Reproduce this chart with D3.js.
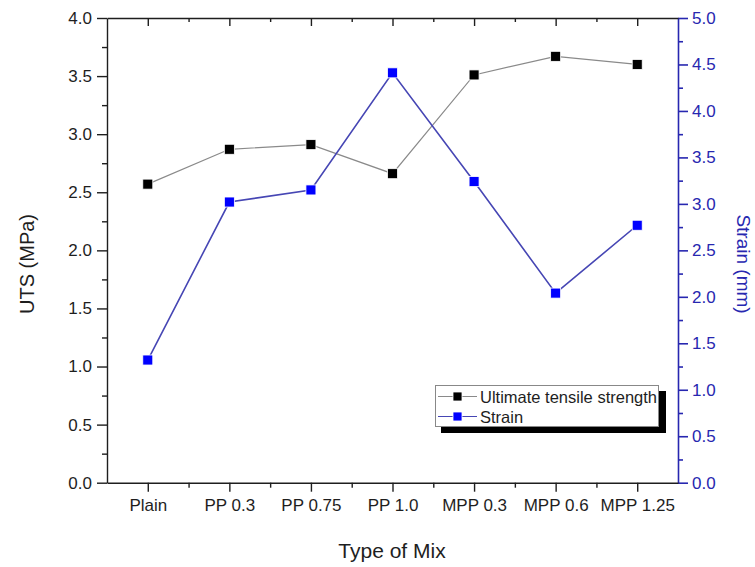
<!DOCTYPE html>
<html><head><meta charset="utf-8">
<script src="https://cdn.jsdelivr.net/npm/d3@7"></script>
<style>body{margin:0;background:#fff}svg{display:block;font-family:"Liberation Sans",Arial,sans-serif}</style>
</head><body><svg id="c" width="755" height="567"></svg>
<script>
const categories = ["Plain","PP 0.3","PP 0.75","PP 1.0","MPP 0.3","MPP 0.6","MPP 1.25"];
const utsValues = [2.57, 2.87, 2.91, 2.66, 3.51, 3.67, 3.60];
const strainValues = [1.32, 3.02, 3.15, 4.41, 3.24, 2.04, 2.77];
const leftTicks = [0,0.5,1.0,1.5,2.0,2.5,3.0,3.5,4.0];
const rightTicks = [0,0.5,1.0,1.5,2.0,2.5,3.0,3.5,4.0,4.5,5.0];
const seriesNames = ["Ultimate tensile strength","Strain"];

const svg = d3.select("#c");
const L = 107, R = 678, T = 18, B = 482.7;
const blueAxis = "#2727b0";
const ink = "#1e1e1e";
const x = d3.scaleLinear().domain([-0.5, categories.length - 0.5]).range([L, R]);
const yL = d3.scaleLinear().domain([0, 4]).range([B, T]);
const yR = d3.scaleLinear().domain([0, 5]).range([B, T]);
const idx = d3.range(categories.length);
const minorX = d3.range(0, categories.length - 1).map(d => d + 0.5);

function style(g, col, w) { g.selectAll("line,path").attr("stroke", col).attr("stroke-width", w); }

// left axis
const gL = svg.append("g").attr("transform", `translate(${L},0)`)
  .call(d3.axisLeft(yL).tickValues(d3.range(0.25, 4, 0.5)).tickSize(5).tickFormat(""));
gL.selectAll(".domain").remove(); style(gL, ink, 1.4);
const gL2 = svg.append("g").attr("transform", `translate(${L},0)`)
  .call(d3.axisLeft(yL).tickValues(leftTicks).tickSize(10).tickSizeOuter(0).tickPadding(5).tickFormat(d3.format(".1f")));
gL2.selectAll("text").attr("font-size", 17).attr("fill", ink);
style(gL2, ink, 1.4);

// right axis
const gR = svg.append("g").attr("transform", `translate(${R},0)`)
  .call(d3.axisRight(yR).tickValues(d3.range(0.25, 5, 0.5)).tickSize(5).tickFormat(""));
gR.selectAll(".domain").remove(); style(gR, blueAxis, 1.6);
const gR2 = svg.append("g").attr("transform", `translate(${R},0)`)
  .call(d3.axisRight(yR).tickValues(rightTicks).tickSize(10).tickSizeOuter(0).tickPadding(4).tickFormat(d3.format(".1f")));
gR2.selectAll("text").attr("font-size", 17).attr("fill", blueAxis);
style(gR2, blueAxis, 1.6);

// bottom axis
const gB = svg.append("g").attr("transform", `translate(0,${B})`)
  .call(d3.axisBottom(x).tickValues(minorX).tickSize(5).tickFormat(""));
gB.selectAll(".domain").remove(); style(gB, ink, 1.4);
const gB2 = svg.append("g").attr("transform", `translate(0,${B})`)
  .call(d3.axisBottom(x).tickValues(idx).tickSize(9).tickSizeOuter(0).tickPadding(7).tickFormat(i => categories[i]));
gB2.selectAll("text").attr("font-size", 17).attr("fill", ink);
style(gB2, ink, 1.4);

// top axis (ticks inside, no labels)
const gT = svg.append("g").attr("transform", `translate(0,${T})`)
  .call(d3.axisBottom(x).tickValues(minorX).tickSize(4).tickFormat(""));
gT.selectAll(".domain").remove(); style(gT, ink, 1.4);
const gT2 = svg.append("g").attr("transform", `translate(0,${T})`)
  .call(d3.axisBottom(x).tickValues(idx).tickSize(8).tickSizeOuter(0).tickFormat(""));
style(gT2, ink, 1.4);

// lines
const lineU = d3.line().x(i => x(i)).y(i => yL(utsValues[i]));
const lineS = d3.line().x(i => x(i)).y(i => yR(strainValues[i]));
svg.append("path").attr("d", lineU(idx)).attr("fill", "none").attr("stroke", "#8a8a8a").attr("stroke-width", 1.2);
svg.append("path").attr("d", lineS(idx)).attr("fill", "none").attr("stroke", "#4646b4").attr("stroke-width", 1.6);
const ms = 10;
svg.selectAll(".mu").data(idx).join("rect").attr("x", i => x(i) - ms/2).attr("y", i => yL(utsValues[i]) - ms/2)
  .attr("width", ms).attr("height", ms).attr("fill", "#000").attr("stroke", "#fff").attr("stroke-width", 0.8);
svg.selectAll(".ms").data(idx).join("rect").attr("x", i => x(i) - ms/2).attr("y", i => yR(strainValues[i]) - ms/2)
  .attr("width", ms).attr("height", ms).attr("fill", "#0000ff").attr("stroke", "#fff").attr("stroke-width", 0.8);

// legend
const lg = svg.append("g");
lg.append("rect").attr("x", 441).attr("y", 391).attr("width", 225).attr("height", 42).attr("fill", "#000");
lg.append("rect").attr("x", 435.5).attr("y", 385.5).attr("width", 223).attr("height", 41).attr("fill", "#fff").attr("stroke", "#888").attr("stroke-width", 1);
const leg = [{c:"#8a8a8a", m:"#000"}, {c:"#4646b4", m:"#0000ff"}];
leg.forEach((s, k) => {
  const yy = 396.5 + k * 20;
  lg.append("line").attr("x1", 438).attr("x2", 477).attr("y1", yy).attr("y2", yy).attr("stroke", s.c).attr("stroke-width", 1.2);
  lg.append("rect").attr("x", 457.5 - 4.5).attr("y", yy - 4.5).attr("width", 9).attr("height", 9).attr("fill", s.m).attr("stroke", "#fff").attr("stroke-width", 0.8);
  lg.append("text").attr("x", 480).attr("y", yy + 6).attr("font-size", 16.5).attr("fill", ink).text(seriesNames[k]);
});

// titles
svg.append("text").attr("transform", "translate(34,264) rotate(-90)").attr("text-anchor", "middle")
  .attr("font-size", 20).attr("fill", ink).text("UTS (MPa)");
svg.append("text").attr("transform", "translate(737,264) rotate(90)").attr("text-anchor", "middle")
  .attr("font-size", 19).attr("fill", blueAxis).text("Strain (mm)");
svg.append("text").attr("x", 392).attr("y", 558).attr("text-anchor", "middle")
  .attr("font-size", 21).attr("fill", ink).text("Type of Mix");
</script></body></html>
